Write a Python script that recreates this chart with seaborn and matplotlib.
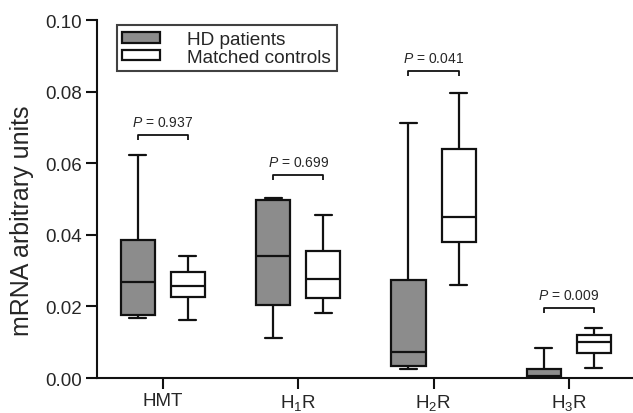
import numpy as np
import pandas as pd
import matplotlib
matplotlib.use("Agg")
import matplotlib.pyplot as plt
import seaborn as sns

# five-number summaries: min, Q1, median, Q3, max
receptors = ["HMT", "H$_1$R", "H$_2$R", "H$_3$R"]
groups = ["HD patients", "Matched controls"]
hd_stats = [
    [0.0167, 0.0175, 0.0267, 0.0387, 0.0624],
    [0.0113, 0.0204, 0.0341, 0.0497, 0.0504],
    [0.0025, 0.0034, 0.0072, 0.0274, 0.0712],
    [0.0001, 0.0002, 0.0005, 0.0025, 0.0083],
]
ctrl_stats = [
    [0.0161, 0.0225, 0.0256, 0.0296, 0.0341],
    [0.0181, 0.0223, 0.0278, 0.0355, 0.0456],
    [0.0260, 0.0379, 0.0449, 0.0639, 0.0796],
    [0.0027, 0.0069, 0.0100, 0.0120, 0.0139],
]
p_values = ["0.937", "0.699", "0.041", "0.009"]
p_heights = [0.0679, 0.0568, 0.0858, 0.0197]

rows = []
for rec, hd, ct in zip(receptors, hd_stats, ctrl_stats):
    rows += [(rec, groups[0], v) for v in hd]
    rows += [(rec, groups[1], v) for v in ct]
df = pd.DataFrame(rows, columns=["receptor", "group", "value"])

sns.set_style("ticks")
plt.rcParams["font.family"] = ["Liberation Sans", "DejaVu Sans"]
plt.rcParams["mathtext.fontset"] = "custom"
plt.rcParams["mathtext.rm"] = "Liberation Sans"
plt.rcParams["mathtext.it"] = "Liberation Sans:italic"

fig = plt.figure(figsize=(6.33, 4.14), dpi=100)
ax = fig.add_axes([0.153, 0.0845, 0.847, 0.8645])

sns.boxplot(
    data=df, x="receptor", y="value", hue="group", order=receptors,
    hue_order=groups, palette={groups[0]: "#8c8c8c", groups[1]: "white"},
    linecolor="#111111", linewidth=1.6, whis=(0, 100), width=0.74, gap=0.32,
    ax=ax,
)

dx = 0.185
for i, (p, h) in enumerate(zip(p_values, p_heights)):
    tick = 0.0014
    ax.plot([i - dx, i - dx, i + dx, i + dx], [h - tick, h, h, h - tick],
            color="#111111", lw=1.3, solid_capstyle="butt")
    ax.text(i, h + 0.0036, f"$P$ = {p}", ha="center", va="center", fontsize=10)

ax.set_xlim(-0.488, 3.474)
ax.set_ylim(0, 0.10)
ax.set_yticks(np.arange(0, 0.101, 0.02))
ax.set_yticklabels([f"{t:.2f}" for t in np.arange(0, 0.101, 0.02)])
ax.set_xlabel("")
ax.set_ylabel("mRNA arbitrary units", fontsize=18)
ax.yaxis.set_label_coords(-0.118, 0.441)
ax.tick_params(axis="both", labelsize=13.5, width=1.5, length=8, color="#111111")
ax.tick_params(axis="y", pad=3)
ax.tick_params(axis="x", pad=2)
sns.despine(ax=ax)
for s in ["left", "bottom"]:
    ax.spines[s].set_linewidth(1.5)
    ax.spines[s].set_color("#111111")

sns.move_legend(
    ax, "upper left", bbox_to_anchor=(0.037, 0.986), borderaxespad=0,
    title=None, frameon=True, fontsize=13.7, handlelength=2.0,
    handleheight=0.5, handletextpad=1.4, labelspacing=0.05, borderpad=0.3,
    fancybox=False,
)
leg = ax.get_legend()
leg.get_frame().set_edgecolor("#111111")
leg.get_frame().set_linewidth(1.5)

fig.savefig("out.png", dpi=100)
